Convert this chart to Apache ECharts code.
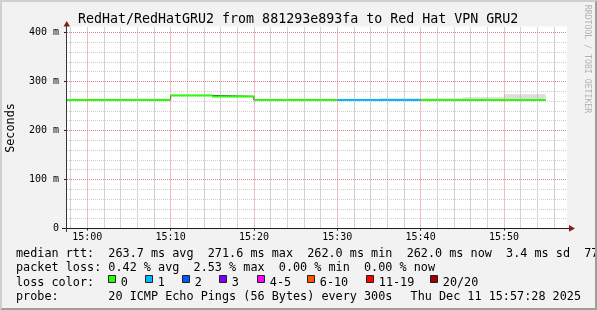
<!DOCTYPE html>
<html><head><meta charset="utf-8">
<script src="https://cdn.jsdelivr.net/npm/echarts@6/dist/echarts.min.js"></script>
<style>html,body{margin:0;padding:0;background:#f2f2f2;overflow:hidden}#c{width:597px;height:310px}</style>
</head><body><div id="c"></div>
<script>
// ---- data ----
const intervalEnds = ['15:00','15:05','15:10','15:15','15:20','15:25','15:30','15:35','15:40','15:45','15:50','15:55'];
const medianRtt = [262.0,262.0,262.0,271.6,269.6,262.0,262.0,262.0,262.0,262.0,262.0,262.0];
const pingMin   = [261.8,261.8,261.8,271.3,269.3,261.8,261.8,261.8,261.8,261.8,261.8,261.8];
const pingMax   = [262.3,262.3,265.0,271.9,269.9,262.3,262.3,262.3,266.0,265.3,268.0,274.0];
const lossPct   = [0,0,0,0,0,0,0,2.53,2.53,0,0,0];
const pingsPerProbe = 20;
const xMajorTicks = ['15:00','15:10','15:20','15:30','15:40','15:50'];
const xMinorTicks = ['14:58','15:02','15:04','15:06','15:08','15:12','15:14','15:16','15:18','15:22','15:24','15:26','15:28','15:32','15:34','15:36','15:38','15:42','15:44','15:46','15:48','15:52','15:54','15:56'];
const yMajorTicks = [0,100,200,300,400];
const yTickLabels = ['0','100 m','200 m','300 m','400 m'];
const yMinorTicks = [20,40,60,80,120,140,160,180,220,240,260,280,320,340,360,380];
const lossLegend = ['0','1','2','3','4-5','6-10','11-19','20/20'];
const lossColors = ['#26ff00','#00b8ff','#0059ff','#7e00ff','#ff00ff','#ff5500','#ff0000','#a10000'];
const titleText = 'RedHat/RedHatGRU2 from 881293e893fa to Red Hat VPN GRU2';
const legendRows = [
  'median rtt:  263.7 ms avg  271.6 ms max  262.0 ms min  262.0 ms now  3.4 ms sd  77',
  'packet loss: 0.42 % avg  2.53 % max  0.00 % min  0.00 % now',
  'loss color:',
  'probe:       20 ICMP Echo Pings (56 Bytes) every 300s'
];
const dateText = 'Thu Dec 11 15:57:28 2025';

// ---- helpers ----
const toMin = s => { const p = s.split(':').map(Number); return p[0]*60 + p[1]; };
const fmtMin = v => { const h = Math.floor(v/60), m = Math.round(v - h*60); return String(h).padStart(2,'0')+':'+String(m).padStart(2,'0'); };
const STEP = 5;
const xMin = toMin('14:57') + 34/60;
const xMax = xMin + 60;
const lossBucket = pct => {
  const lost = pct/100*pingsPerProbe;
  if (lost <= 0) return 0; if (lost <= 1) return 1; if (lost <= 2) return 2; if (lost <= 3) return 3;
  if (lost <= 5) return 4; if (lost <= 10) return 5; if (lost < pingsPerProbe) return 6; return 7;
};
const ends = intervalEnds.map(toMin);
const starts = ends.map(e => e - STEP);
const stepPts = arr => starts.map((x,i)=>[x, arr[i]]).concat([[ends[ends.length-1], arr[arr.length-1]]]);
const smokeData = intervalEnds.map((t,i)=>[starts[i], ends[i], pingMin[i], pingMax[i]]);
const segs = lossLegend.map(()=>[]);
intervalEnds.forEach((t,i)=>{
  const b = lossBucket(lossPct[i]);
  segs[b].push([starts[i], medianRtt[i]], [ends[i], medianRtt[i]], [ends[i], '-']);
});

const MONO = '"DejaVu Sans Mono", monospace';
const chart = echarts.init(document.getElementById('c'), null, {renderer:'canvas'});

const graphics = [];
const txt = (text, x, y, size, opts) => graphics.push(Object.assign({
  type:'text', x:x, y:y, z:50,
  style: Object.assign({text:text, font: size+'px '+MONO, fill:'#000', textAlign:'left', textVerticalAlign:'middle', align:'left', verticalAlign:'middle'}, (opts&&opts.style)||{})
}, (opts&&opts.el)||{}));

// axis lines & arrows
graphics.push({type:'line', z:40, shape:{x1:62, y1:228.5, x2:570, y2:228.5}, style:{stroke:'#1f1f1f', lineWidth:1}});
graphics.push({type:'line', z:40, shape:{x1:66.5, y1:232, x2:66.5, y2:25}, style:{stroke:'#3a3a3a', lineWidth:1}});
graphics.push({type:'polygon', z:41, shape:{points:[[63.5,26.5],[70,26.5],[66.75,21]]}, style:{fill:'#801f1f'}});
graphics.push({type:'polygon', z:41, shape:{points:[[569,225],[569,231.8],[575,228.4]]}, style:{fill:'#801f1f'}});

txt(titleText, 78, 19.5, 13.3);
txt('Seconds', 11, 128, 11.8, {el:{rotation:Math.PI/2}, style:{textAlign:'center', align:'center'}});
txt('RRDTOOL / TOBI OETIKER', 587.5, 59, 8.2, {el:{rotation:-Math.PI/2}, style:{textAlign:'center', align:'center', fill:'rgba(0,0,0,0.28)'}});
const rowY = [254, 268.3, 282.5, 296.6];
legendRows.forEach((r,i)=> txt(r, 16, rowY[i], 11.8));
txt(dateText, 581, rowY[3], 11.8, {style:{textAlign:'right', align:'right'}});
const boxX = [108,145,182,219,257,307,366,430];
lossLegend.forEach((lab,k)=>{
  graphics.push({type:'rect', z:45, shape:{x:boxX[k]+0.5, y:275.5, width:7, height:7}, style:{fill:lossColors[k], stroke:'#222', lineWidth:1}});
  txt(lab, boxX[k]+12.8, rowY[2], 11.8);
});
// frame shading
graphics.push({type:'polygon', z:60, shape:{points:[[0,0],[597,0],[595,2],[2,2],[2,308],[0,310]]}, style:{fill:'#cfcfcf'}});
graphics.push({type:'polygon', z:60, shape:{points:[[597,0],[597,310],[0,310],[2,308],[595,308],[595,2]]}, style:{fill:'#9e9e9e'}});

// grid lines drawn through the axes' scales as markLines
const minorStyleX = {color:'#a9a9a9', width:1, type:[1,1]};
const minorStyleY = {color:'#cfcfcf', width:1, type:[1,1]};
const majorStyle = {color:'#e27f7f', width:1, type:[1,1]};
const gridLines = []
  .concat(xMinorTicks.map(t=>({xAxis:toMin(t), lineStyle:minorStyleX})))
  .concat(yMinorTicks.map(v=>({yAxis:v, lineStyle:minorStyleY})))
  .concat(xMajorTicks.map(t=>({xAxis:toMin(t), lineStyle:majorStyle})))
  .concat(yMajorTicks.filter(v=>v>0).map(v=>({yAxis:v, lineStyle:majorStyle})));

function renderSmoke(params, api) {
  const p1 = api.coord([api.value(0), api.value(3)]);
  const p2 = api.coord([api.value(1), api.value(2)]);
  const cs = params.coordSys;
  const shape = echarts.graphic.clipRectByRect(
    {x:p1[0], y:p1[1], width:p2[0]-p1[0], height:p2[1]-p1[1]},
    {x:cs.x, y:cs.y, width:cs.width, height:cs.height});
  return shape && {type:'rect', shape:shape, style:{fill:'#dcdcdc'}};
}

const yMaxVal = 202/0.49;
chart.setOption({
  animation:false,
  backgroundColor:'#f2f2f2',
  grid:{left:67, right:30, top:26.5, bottom:81.5, show:true, backgroundColor:'#ffffff', borderWidth:0},
  xAxis:[
    {type:'value', min:xMin, max:xMax, position:'bottom',
     axisLine:{show:false},
     axisTick:{show:true, length:2, lineStyle:{color:'#1f1f1f'}, customValues:xMajorTicks.map(toMin)},
     axisLabel:{show:true, customValues:xMajorTicks.map(toMin), formatter:v=>fmtMin(v), fontFamily:MONO, fontSize:10, color:'#000', margin:4},
     splitLine:{show:false}, minorSplitLine:{show:false}}
  ],
  yAxis:[
    {type:'value', min:0, max:yMaxVal, position:'left',
     axisLine:{show:false},
     axisTick:{show:true, length:3, lineStyle:{color:'#1f1f1f'}, customValues:yMajorTicks},
     axisLabel:{show:true, customValues:yMajorTicks, formatter:v=>yTickLabels[yMajorTicks.indexOf(v)], fontFamily:MONO, fontSize:10, color:'#000', margin:8},
     splitLine:{show:false}, minorSplitLine:{show:false}}
  ],
  graphic:{elements:graphics},
  series:[
    {type:'line', data:stepPts(medianRtt), symbol:'none', silent:true, lineStyle:{opacity:0, width:0}, z:1,
     markLine:{silent:true, symbol:['none','none'], label:{show:false}, emphasis:{disabled:true}, animation:false, data:gridLines}},
    {type:'custom', data:smokeData, renderItem:renderSmoke, encode:{x:[0,1], y:[2,3]}, silent:true, z:2},
    {type:'line', data:stepPts(medianRtt), step:'end', symbol:'none', silent:true, lineStyle:{color:'#202020', width:1}, z:3},
    ...segs.map((d,k)=>({type:'line', data:d, symbol:'none', silent:true, connectNulls:false, lineStyle:{color:lossColors[k], width:2}, z:4}))
  ]
});
</script>
</body></html>
